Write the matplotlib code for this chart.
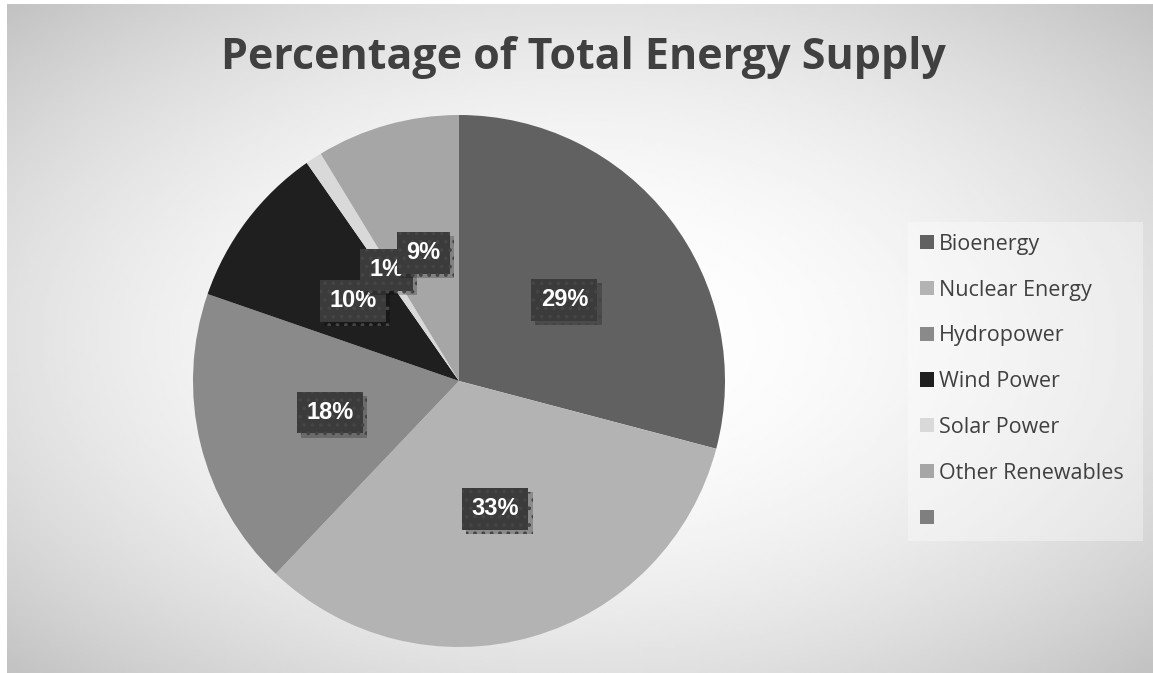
import numpy as np
import matplotlib
matplotlib.use("Agg")
import matplotlib.pyplot as plt
from matplotlib.patches import Patch
import matplotlib.patheffects as pe

categories = ["Bioenergy", "Nuclear Energy", "Hydropower", "Wind Power", "Solar Power", "Other Renewables", ""]
values = [29.1, 33.0, 18.2, 10.0, 1.0, 8.7]
colors = ["#616161", "#b3b3b3", "#8a8a8a", "#1f1f1f", "#d9d9d9", "#a6a6a6", "#7f7f7f"]
title = "Percentage of Total Energy Supply"

plt.rcParams["hatch.linewidth"] = 1.5

W, H = 1153, 673
fig = plt.figure(figsize=(W / 100, H / 100), dpi=100)
fig.patch.set_facecolor("white")

# background radial gradient panel
bx0, by0, bx1, by1 = 7, 4, 1153, 673
bg = fig.add_axes([bx0 / W, 1 - by1 / H, (bx1 - bx0) / W, (by1 - by0) / H])
bg.set_axis_off()
nx, ny = 400, 240
xx, yy = np.meshgrid(np.linspace(-1, 1, nx), np.linspace(-1, 1, ny))
d = np.sqrt(xx ** 2 + yy ** 2) / np.sqrt(2)
img = 255 - (255 - 194) * np.clip(d, 0, 1) ** 2
bg.imshow(img, cmap="gray", vmin=0, vmax=255, extent=[0, 1, 0, 1], aspect="auto", interpolation="bilinear")
bg.set_xlim(0, 1)
bg.set_ylim(0, 1)

# title
fig.text(583 / W, 1 - 69 / H, title, ha="center", va="baseline",
         fontsize=31, fontweight="bold", color="#404040", family="Open Sans")

# pie
cx, cy, r = 459, 381, 266
ax = fig.add_axes([(cx - r) / W, 1 - (cy + r) / H, 2 * r / W, 2 * r / H])
ax.set_axis_off()
wedges, texts, autotexts = ax.pie(
    values, colors=colors[:len(values)], startangle=90, counterclock=False,
    autopct="%.0f%%", pctdistance=0.5, radius=1,
    wedgeprops=dict(linewidth=0),
    textprops=dict(color="white", fontsize=17, fontweight="bold", family="Liberation Sans"))
ax.set_xlim(-1, 1)
ax.set_ylim(-1, 1)
ax.set_aspect("equal")
for t in autotexts:
    t.set_bbox(dict(boxstyle="square,pad=0.4", facecolor="#3b3b3b", edgecolor="#454545",
                    linewidth=0, hatch=".."))
    t.get_bbox_patch().set_path_effects([
        pe.SimplePatchShadow(offset=(3, -3), shadow_rgbFace="black", alpha=0.22), pe.Normal()])

# legend
lx0, ly0, lx1, ly1 = 908, 222, 1143, 538
handles = [Patch(facecolor=c, edgecolor="none") for c in colors]
leg = fig.legend(handles, categories, loc="upper left", mode="expand",
                 bbox_to_anchor=(lx0 / W, 1 - ly1 / H, (lx1 - lx0) / W, (ly1 - ly0) / H),
                 borderaxespad=0,
                 frameon=True, fancybox=False, framealpha=0.35, facecolor="white",
                 edgecolor="none", prop=dict(family="Open Sans", size=15.5),
                 handlelength=0.65, handleheight=0.65, handletextpad=0.25,
                 labelspacing=1.15, borderpad=0.55)
for txt in leg.get_texts():
    txt.set_color("#404040")

fig.savefig("out.png", dpi=100, facecolor="white")
